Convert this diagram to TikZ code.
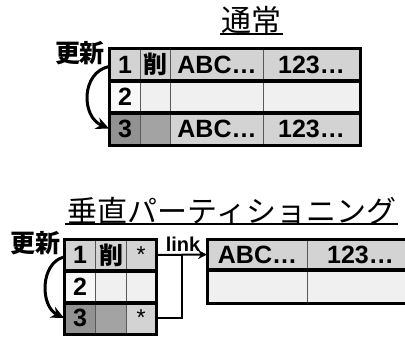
\documentclass[tikz,border=0pt]{standalone}
\usepackage{fontspec}
\setmainfont{Liberation Sans}
\newfontfamily\cjk{Noto Sans CJK JP}
\usetikzlibrary{arrows.meta}
\definecolor{gA}{HTML}{D3D3D3}
\definecolor{gB}{HTML}{F0F0F0}
\definecolor{gC}{HTML}{929292}
\definecolor{gD}{HTML}{A3A3A3}
\definecolor{gW}{HTML}{F8F8F8}
\tikzset{
  cell/.style={draw=black!65, line width=1pt, inner sep=0pt, anchor=north west,
    font=\bfseries\fontsize{25}{25}\selectfont},
  kanji/.style={font=\cjk\bfseries\fontsize{24}{24}\selectfont},
  star/.style={font=\fontsize{23}{23}\selectfont},
  rowframe/.style={draw=black, line width=3pt},
  upd/.style={draw=black, line width=3pt, -{Stealth[length=13pt,width=12pt]}},
  lnk/.style={draw=black, line width=2pt},
  lbl/.style={inner sep=0pt, font=\cjk\bfseries\fontsize{25}{25}\selectfont},
  ttl/.style={inner sep=0pt, font=\cjk\fontsize{30}{30}\selectfont},
  uline/.style={draw=black, line width=1.6pt}
}
\begin{document}
\begin{tikzpicture}[x=1pt,y=-1pt]
\useasboundingbox (0,0) rectangle (405,338);
\clip (0,0) rectangle (405,338);
% ---------- top table ----------
\node[ttl] (t1) at (251,20) {通常};
\draw[uline] (220,34) -- (283,34);
\node[lbl] (u1) at (80,53) {更新};
% row 1
\node[cell, fill=gA, minimum width=31pt, minimum height=32pt] (t11) at (109,48) {1};
\node[cell, kanji, fill=gA, minimum width=30pt, minimum height=32pt] (t12) at (140,48) {削};
\node[cell, fill=gA, minimum width=93pt, minimum height=32pt] (t13) at (170,48) {ABC…};
\node[cell, fill=gA, minimum width=96pt, minimum height=32pt] (t14) at (263,48) {123…};
% row 2
\node[cell, fill=gW, minimum width=31pt, minimum height=32pt] (t21) at (109,80) {2};
\node[cell, fill=gB, minimum width=30pt, minimum height=32pt] (t22) at (140,80) {};
\node[cell, fill=gB, minimum width=93pt, minimum height=32pt] (t23) at (170,80) {};
\node[cell, fill=gB, minimum width=96pt, minimum height=32pt] (t24) at (263,80) {};
% row 3
\node[cell, fill=gC, minimum width=31pt, minimum height=32pt] (t31) at (109,112) {3};
\node[cell, fill=gD, minimum width=30pt, minimum height=32pt] (t32) at (140,112) {};
\node[cell, fill=gA, minimum width=93pt, minimum height=32pt] (t33) at (170,112) {ABC…};
\node[cell, fill=gA, minimum width=96pt, minimum height=32pt] (t34) at (263,112) {123…};
\draw[rowframe] (t11.north west) rectangle (t14.south east);
\draw[rowframe] (t21.north west) rectangle (t24.south east);
\draw[rowframe] (t31.north west) rectangle (t34.south east);
\draw[upd] ([yshift=-2pt]t11.west) .. controls +(-28,6) and +(-28,-12) .. (t31.west);
% ---------- bottom ----------
\node[ttl] (t2) at (232,211) {垂直パーティショニング};
\draw[uline] (65,224) -- (398,224);
\node[lbl] (u2) at (35,243) {更新};
% left table
\node[cell, fill=gA, minimum width=31pt, minimum height=31pt] (b11) at (64,239) {1};
\node[cell, kanji, fill=gA, minimum width=31pt, minimum height=31pt] (b12) at (95,239) {削};
\node[cell, star, fill=gA, minimum width=29pt, minimum height=31pt] (b13) at (126,239) {*};
\node[cell, fill=gW, minimum width=31pt, minimum height=32pt] (b21) at (64,270) {2};
\node[cell, fill=gB, minimum width=31pt, minimum height=32pt] (b22) at (95,270) {};
\node[cell, fill=gB, minimum width=29pt, minimum height=32pt] (b23) at (126,270) {};
\node[cell, fill=gC, minimum width=31pt, minimum height=31pt] (b31) at (64,302) {3};
\node[cell, fill=gD, minimum width=31pt, minimum height=31pt] (b32) at (95,302) {};
\node[cell, star, fill=gA, minimum width=29pt, minimum height=31pt] (b33) at (126,302) {*};
\draw[rowframe] (b11.north west) rectangle (b13.south east);
\draw[rowframe] (b21.north west) rectangle (b23.south east);
\draw[rowframe] (b31.north west) rectangle (b33.south east);
% right table
\node[cell, fill=gA, minimum width=100pt, minimum height=30pt] (r11) at (207,239) {ABC…};
\node[cell, fill=gA, minimum width=106pt, minimum height=30pt] (r12) at (307,239) {123…};
\node[cell, fill=gB, minimum width=100pt, minimum height=33pt] (r21) at (207,269) {};
\node[cell, fill=gB, minimum width=106pt, minimum height=33pt] (r22) at (307,269) {};
\draw[rowframe] (r11.north west) rectangle (r12.south east);
\draw[rowframe] (r21.north west) rectangle (r22.south east);
\draw[upd] ([yshift=-2pt]b11.west) .. controls +(-24,6) and +(-24,-12) .. (b31.west);
% link
\node[inner sep=0pt, font=\bfseries\fontsize{20}{20}\selectfont] (lk) at (183,244) {link};
\coordinate (j) at (182,254.5);
\draw[lnk, -{Stealth[length=9pt,width=9pt]}] (b13.east) -- (r11.west);
\draw[lnk] (b33.east) -| (j);
\end{tikzpicture}
\end{document}
